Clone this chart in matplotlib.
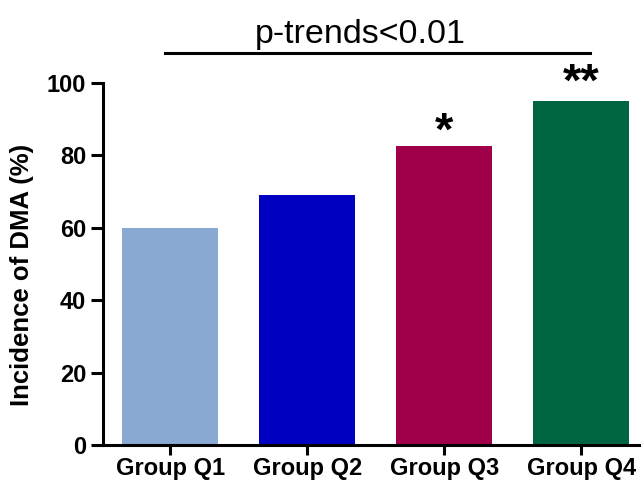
import matplotlib
matplotlib.use("Agg")
import matplotlib.pyplot as plt

categories = ["Group Q1", "Group Q2", "Group Q3", "Group Q4"]
values = [60, 69, 82.5, 95]
colors = ["#8aa9d2", "#0000c2", "#a0004a", "#006641"]
stars = ["", "", "*", "**"]
yticks = [0, 20, 40, 60, 80, 100]
trend_text = "p-trends<0.01"

plt.rcParams['font.family'] = ['Liberation Sans', 'DejaVu Sans']

fig = plt.figure(figsize=(6.41, 4.83), dpi=100)
ax = fig.add_axes([103/641, 1-445/483, 1-103/641, (445-83)/483])

x = list(range(len(categories)))
ax.bar(x, values, width=0.7, color=colors, edgecolor='none')

ax.set_xlim(-0.49, 3.437)
ax.set_ylim(0, 100)
ax.set_yticks(yticks)
ax.set_xticks(x)
ax.set_xticklabels(categories, fontsize=17, fontweight='bold')
for lab in ax.get_yticklabels():
    lab.set_fontsize(17)
    lab.set_fontweight('bold')
ax.set_ylabel("Incidence of DMA (%)", fontsize=18.5, fontweight='bold')
ax.yaxis.label.set_va('center')
ax.yaxis.set_label_coords(-0.1506, 0.47)

for s in ['top', 'right']:
    ax.spines[s].set_visible(False)
for s in ['left', 'bottom']:
    ax.spines[s].set_linewidth(2.2)
ax.tick_params(axis='y', direction='out', length=8.5, width=2.2, pad=3.5)
ax.tick_params(axis='x', direction='out', length=7, width=2.2, pad=2)

star_offsets = [0, 0, 0.5, 1.5]
for xi, v, st, off in zip(x, values, stars, star_offsets):
    if st:
        ax.text(xi, v + off, st, ha='center', va='baseline', fontsize=34, fontweight='bold')

ax.plot([-0.037, 3.065], [108.3, 108.3], color='black', lw=2.2, clip_on=False)
ax.text(1.39, 111, trend_text, ha='center', va='baseline', fontsize=24.5)

fig.savefig("out.png", dpi=100)
